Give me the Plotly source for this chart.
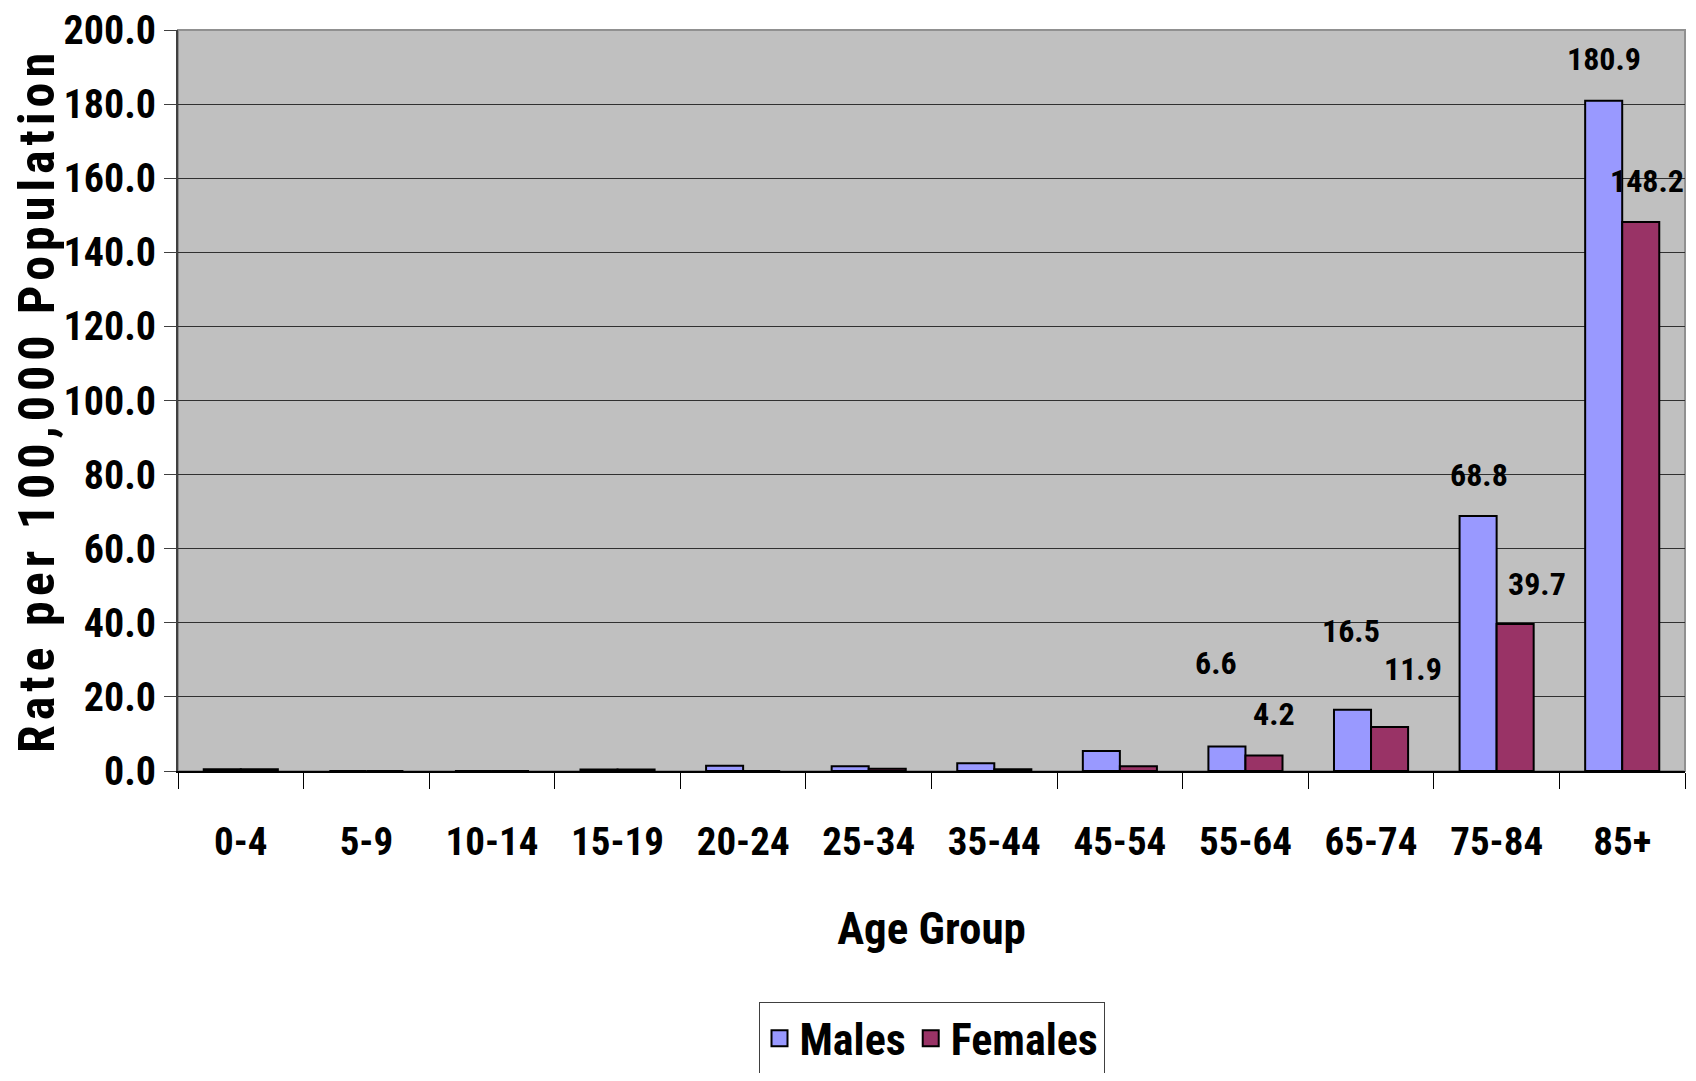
import plotly.graph_objects as go

categories = ["0-4", "5-9", "10-14", "15-19", "20-24", "25-34", "35-44",
              "45-54", "55-64", "65-74", "75-84", "85+"]
males = [0.5, 0.0, 0.0, 0.4, 1.4, 1.3, 2.1, 5.4, 6.6, 16.5, 68.8, 180.9]
females = [0.5, 0.0, 0.0, 0.4, 0.0, 0.6, 0.5, 1.3, 4.2, 11.9, 39.7, 148.2]
labeled_from = 8  # data labels shown from "55-64" onwards

# label nudges (pixels) for the data labels, styling only
male_dx = [-29, -20, -18, -18]
male_dy = [84, 79, 41, 42]
female_dx = [29, 42, 40, 25]
female_dy = [41, 58, 40, 41]

MALE_C = "#9999FF"
FEMALE_C = "#993366"
FONT = "Roboto Condensed, Liberation Sans Narrow, Arial Narrow, Liberation Sans, Arial, sans-serif"

fig = go.Figure()
fig.add_trace(go.Bar(x=categories, y=males, name="Males", showlegend=False,
                     marker=dict(color=MALE_C, line=dict(color="black", width=2))))
fig.add_trace(go.Bar(x=categories, y=females, name="Females", showlegend=False,
                     marker=dict(color=FEMALE_C, line=dict(color="black", width=2))))
# legend keys drawn as larger outlined squares (no data drawn)
for nm, col in (("Males", MALE_C), ("Females", FEMALE_C)):
    fig.add_trace(go.Scatter(x=[None], y=[None], mode="markers", name=nm,
                             marker=dict(symbol="square", size=16, color=col,
                                         line=dict(color="black", width=2))))

for k, i in enumerate(range(labeled_from, len(categories))):
    fig.add_annotation(x=categories[i], y=males[i], text=f"{males[i]:.1f}",
                       showarrow=False, xshift=male_dx[k], yshift=male_dy[k],
                       font=dict(family=FONT, size=32, color="black", weight="bold"))
    fig.add_annotation(x=categories[i], y=females[i], text=f"{females[i]:.1f}",
                       showarrow=False, xshift=female_dx[k], yshift=female_dy[k],
                       font=dict(family=FONT, size=32, color="black", weight="bold"))

# page body has an 8px margin; figure sized so the plot lands where the reference's does
fig.update_layout(
    width=1680, height=1065,
    margin=dict(l=170, r=3, t=22, b=302, autoexpand=False),
    paper_bgcolor="white", plot_bgcolor="#C0C0C0",
    barmode="group", bargap=0.41, bargroupgap=0,
    font=dict(family=FONT, color="black"),
    showlegend=True,
    legend=dict(orientation="h", x=0.5, xanchor="center", y=-0.312, yanchor="top",
                bordercolor="#404040", borderwidth=1, bgcolor="white",
                font=dict(family=FONT, size=44, color="black", weight="bold"),
                itemwidth=30),
    xaxis=dict(
        automargin=False, range=[-0.5, len(categories) - 0.5],
        title=dict(text="Age Group", font=dict(family=FONT, size=45, weight="bold"), standoff=49),
        tickfont=dict(family=FONT, size=39, weight="bold"),
        showline=True, linecolor="black", linewidth=2,
        ticks="outside", tickson="boundaries", ticklen=16, tickcolor="black",
        ticklabelstandoff=35, showgrid=False,
    ),
    yaxis=dict(
        automargin=False,
        title=dict(text='<span style="letter-spacing:5px">Rate per 100,000 Population</span>',
                   font=dict(family=FONT, size=50, weight="bold"),
                   standoff=2),
        tickfont=dict(family=FONT, size=40, weight="bold"),
        ticklabeloverflow="allow",
        range=[0, 200], dtick=20, tickformat=".1f",
        showline=True, linecolor="#404040", linewidth=2,
        ticks="outside", ticklen=12, tickcolor="#404040",
        showgrid=True, gridcolor="#303030", gridwidth=1,
        zeroline=False,
    ),
)
fig.add_shape(type="rect", xref="paper", yref="paper", x0=0, y0=0, x1=1, y1=1,
              line=dict(color="#909090", width=2), layer="below")

fig.write_html("out.html")
